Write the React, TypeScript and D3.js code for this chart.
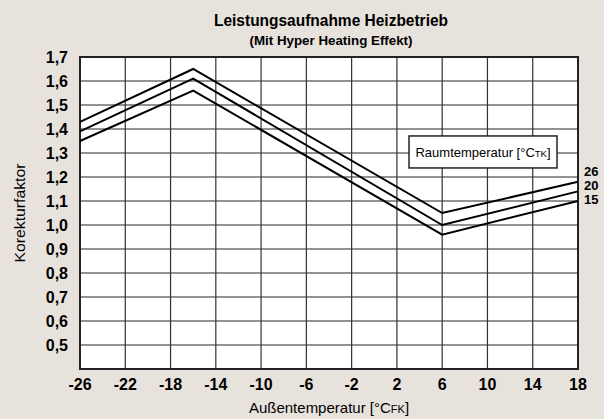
import React from 'react';
import * as d3 from 'd3';

// Außentemperatur (x) points of each curve
const outsideTemps = [-26, -16, 6, 18];
// Korrekturfaktor per Raumtemperatur
const series26 = [1.43, 1.65, 1.05, 1.18];
const series20 = [1.39, 1.61, 1.00, 1.14];
const series15 = [1.35, 1.56, 0.96, 1.10];
const seriesNames = ['26', '20', '15'];
const xTicks = [-26, -22, -18, -14, -10, -6, -2, 2, 6, 10, 14, 18];
const yTicks = [0.5, 0.6, 0.7, 0.8, 0.9, 1.0, 1.1, 1.2, 1.3, 1.4, 1.5, 1.6, 1.7];

const W = 604;
const H = 419;
const margin = { top: 57, right: 26, bottom: 50, left: 80 };
const FONT = "'Liberation Sans', Arial, sans-serif";

export default function App() {
  const width = W - margin.left - margin.right;
  const height = H - margin.top - margin.bottom;

  const x = d3.scaleLinear().domain([-26, 18]).range([0, width]);
  const y = d3.scaleLinear().domain([0.4, 1.7]).range([height, 0]);

  const line = d3.line<number>()
    .x((_, i) => x(outsideTemps[i]))
    .y(d => y(d));

  const allSeries = [series26, series20, series15];
  const lastIdx = outsideTemps.length - 1;
  const midLabelY = y(series20[lastIdx]) - 6;

  return (
    <svg width={W} height={H} style={{ position: 'absolute', left: 0, top: 0, background: '#e8e2dc' }}
      fontFamily={FONT}>
      <rect x={0} y={0} width={W} height={H} fill="#e8e2dc" />
      <text x={331} y={26} textAnchor="middle" fontWeight="bold" fontSize={17}
        textLength={234} lengthAdjust="spacingAndGlyphs">Leistungsaufnahme Heizbetrieb</text>
      <text x={331} y={45} textAnchor="middle" fontWeight="bold" fontSize={13.5}
        textLength={163} lengthAdjust="spacingAndGlyphs">(Mit Hyper Heating Effekt)</text>

      <g transform={`translate(${margin.left},${margin.top})`}>
        <rect x={0} y={0} width={width} height={height} fill="#fff" />
        {yTicks.map(t => (
          <line key={'h' + t} x1={0} x2={width} y1={y(t)} y2={y(t)} stroke="#6e6e6e" strokeWidth={1.3} />
        ))}
        {xTicks.slice(1, -1).map(t => (
          <line key={'v' + t} x1={x(t)} x2={x(t)} y1={0} y2={height} stroke="#333" strokeWidth={1.2} />
        ))}
        <rect x={0} y={0} width={width} height={height} fill="none" stroke="#222" strokeWidth={2} />

        {allSeries.map((s, i) => (
          <path key={i} d={line(s) || ''} fill="none" stroke="#000" strokeWidth={2} />
        ))}

        {yTicks.map(t => (
          <text key={'yl' + t} x={-12} y={y(t)} dy="0.35em" textAnchor="end" fontWeight="bold" fontSize={16}>
            {d3.format('.1f')(t).replace('.', ',')}
          </text>
        ))}
        {xTicks.map(t => (
          <text key={'xl' + t} x={x(t)} y={height + 21} textAnchor="middle" fontWeight="bold" fontSize={16}>
            {t}
          </text>
        ))}

        {seriesNames.map((n, i) => (
          <text key={'sn' + n} x={width + 6} y={midLabelY + (i - 1) * 14} dy="0.35em" fontWeight="bold" fontSize={13}>{n}</text>
        ))}

        <g transform={`translate(${x(3.07)},${y(1.371)})`}>
          <rect x={0} y={0} width={148} height={32} fill="#fff" stroke="#222" strokeWidth={1.5} />
          <text x={74} y={16} dy="0.35em" textAnchor="middle" fontSize={13}>
            Raumtemperatur [°C<tspan fontSize={9.5}>TK</tspan>]
          </text>
        </g>
      </g>

      <text transform={`translate(25,${margin.top + height / 2}) rotate(-90)`} textAnchor="middle" fontSize={15}
        textLength={99} lengthAdjust="spacingAndGlyphs">Korekturfaktor</text>
      <text x={margin.left + width / 2} y={413} textAnchor="middle" fontSize={15}>
        Außentemperatur [°C<tspan fontSize={11}>FK</tspan>]
      </text>
    </svg>
  );
}
